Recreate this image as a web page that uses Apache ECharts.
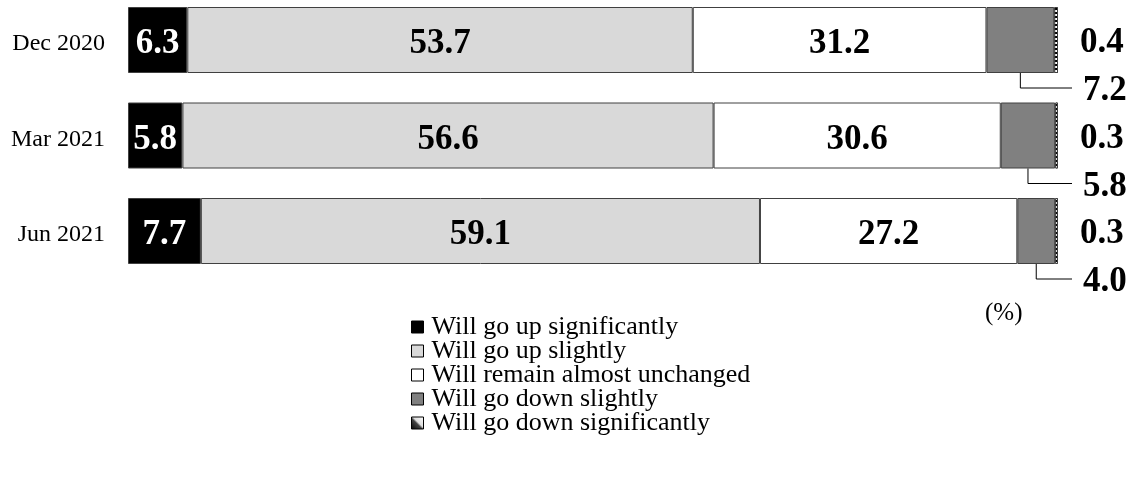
<!DOCTYPE html>
<html><head><meta charset="utf-8">
<script src="https://cdn.jsdelivr.net/npm/echarts@6/dist/echarts.min.js"></script>
<style>html,body{margin:0;padding:0;background:#fff}#c{width:1132px;height:492px}</style>
</head><body><div id="c"></div>
<script>
const categories = ['Dec 2020', 'Mar 2021', 'Jun 2021'];
const seriesNames = ['Will go up significantly', 'Will go up slightly', 'Will remain almost unchanged', 'Will go down slightly', 'Will go down significantly'];
const upSignificantly = [6.3, 5.8, 7.7];
const upSlightly = [53.7, 56.6, 59.1];
const unchanged = [31.2, 30.6, 27.2];
const downSlightly = [7.2, 5.8, 4.0];
const downSignificantly = [0.4, 0.3, 0.3];
const unitLabel = '(%)';

const raw = [upSignificantly, upSlightly, unchanged, downSlightly, downSignificantly];
const totals = categories.map((c, i) => raw.reduce((s, a) => s + a[i], 0));
const norm = raw.map(a => a.map((v, i) => v / totals[i] * 100));

const FONT = 'Liberation Serif, Times New Roman, serif';
const fills = ['#000000', '#d9d9d9', '#ffffff', '#808080', '#ffffff'];
const LBL = 35;

const labelBase = {fontFamily: FONT, fontWeight: 'bold', fontSize: LBL, color: '#000'};

const barSeries = seriesNames.map((name, k) => {
  const s = {
    name, type: 'bar', stack: 'total', barWidth: 66,
    itemStyle: {color: fills[k], borderColor: '#404040', borderWidth: 1},
    emphasis: {disabled: true},
    data: norm[k],
    label: {show: false}
  };
  if (k < 3) {
    s.label = Object.assign({show: true, position: 'inside', offset: [0, 4],
      formatter: p => raw[k][p.dataIndex].toFixed(1)}, labelBase,
      {color: k === 0 ? '#fff' : '#000'});
  }
  if (k === 4) {
    s.label = Object.assign({show: true, position: 'right', distance: 22, offset: [0, 3],
      formatter: p => raw[k][p.dataIndex].toFixed(1)}, labelBase);
    s.itemStyle.decal = {symbol: 'rect', color: '#000', backgroundColor: '#fff',
      dashArrayX: [1, 0], dashArrayY: [2, 2], symbolSize: 1, rotation: 0};
  }
  return s;
});

// leader line data for "down slightly" segment
const leaderData = categories.map((c, i) => {
  const start = norm[0][i] + norm[1][i] + norm[2][i];
  return [i, start, norm[3][i], raw[3][i]];
});

const leaderSeries = {
  type: 'custom', name: 'leader', silent: true,
  encode: {x: 1, y: 0},
  data: leaderData,
  z: 10,
  renderItem: (params, api) => {
    const cat = api.value(0), start = api.value(1), w = api.value(2), v = api.value(3);
    const mid = api.coord([start + w / 2, cat]);
    const end = api.coord([100, cat]);
    const half = 33;
    const yLine = mid[1] + half + 15;
    return {type: 'group', children: [
      {type: 'polyline', shape: {points: [[mid[0], mid[1] + half], [mid[0], yLine], [end[0] + 14, yLine]]},
       style: {stroke: '#000', lineWidth: 1, fill: null}},
      {type: 'text', x: end[0] + 25, y: yLine + 3,
       style: {text: v.toFixed(1), fontFamily: FONT, fontWeight: 'bold', fontSize: LBL,
               fill: '#000', verticalAlign: 'middle', align: 'left'}}
    ]};
  }
};

const chart = echarts.init(document.getElementById('c'));
chart.setOption({
  animation: false,
  backgroundColor: '#fff',
  grid: {left: 128, right: 74, top: -7.75, height: 286.5, containLabel: false, outerBoundsMode: 'none'},
  xAxis: {type: 'value', min: 0, max: 100, show: false},
  yAxis: {type: 'category', data: categories, inverse: true,
    axisLine: {show: false}, axisTick: {show: false},
    axisLabel: {margin: 23, formatter: v => '{a|' + v + '}',
      rich: {a: {fontFamily: FONT, fontSize: 24, color: '#000', padding: [8, 0, 0, 0]}}}},
  legend: {
    orient: 'vertical', left: 406, top: 309, itemGap: -2, itemWidth: 12, itemHeight: 12,
    icon: 'rect', selectedMode: false,
    itemStyle: {borderColor: '#000', borderWidth: 1},
    textStyle: {fontFamily: FONT, fontSize: 26, color: '#000', padding: [0, 0, 0, 3]},
    data: seriesNames.map((n, k) => k === 4 ? {name: n, itemStyle: {decal: 'none', color: new echarts.graphic.LinearGradient(0, 1, 1, 0, [{offset: 0, color: '#000'}, {offset: 0.45, color: '#444'}, {offset: 0.55, color: '#ddd'}, {offset: 1, color: '#fff'}])}} : n)
  },
  graphic: [{type: 'text', left: 985, top: 301,
    style: {text: unitLabel, fontFamily: FONT, fontSize: 25, fill: '#000'}}],
  series: barSeries.concat([leaderSeries])
});
</script></body></html>
